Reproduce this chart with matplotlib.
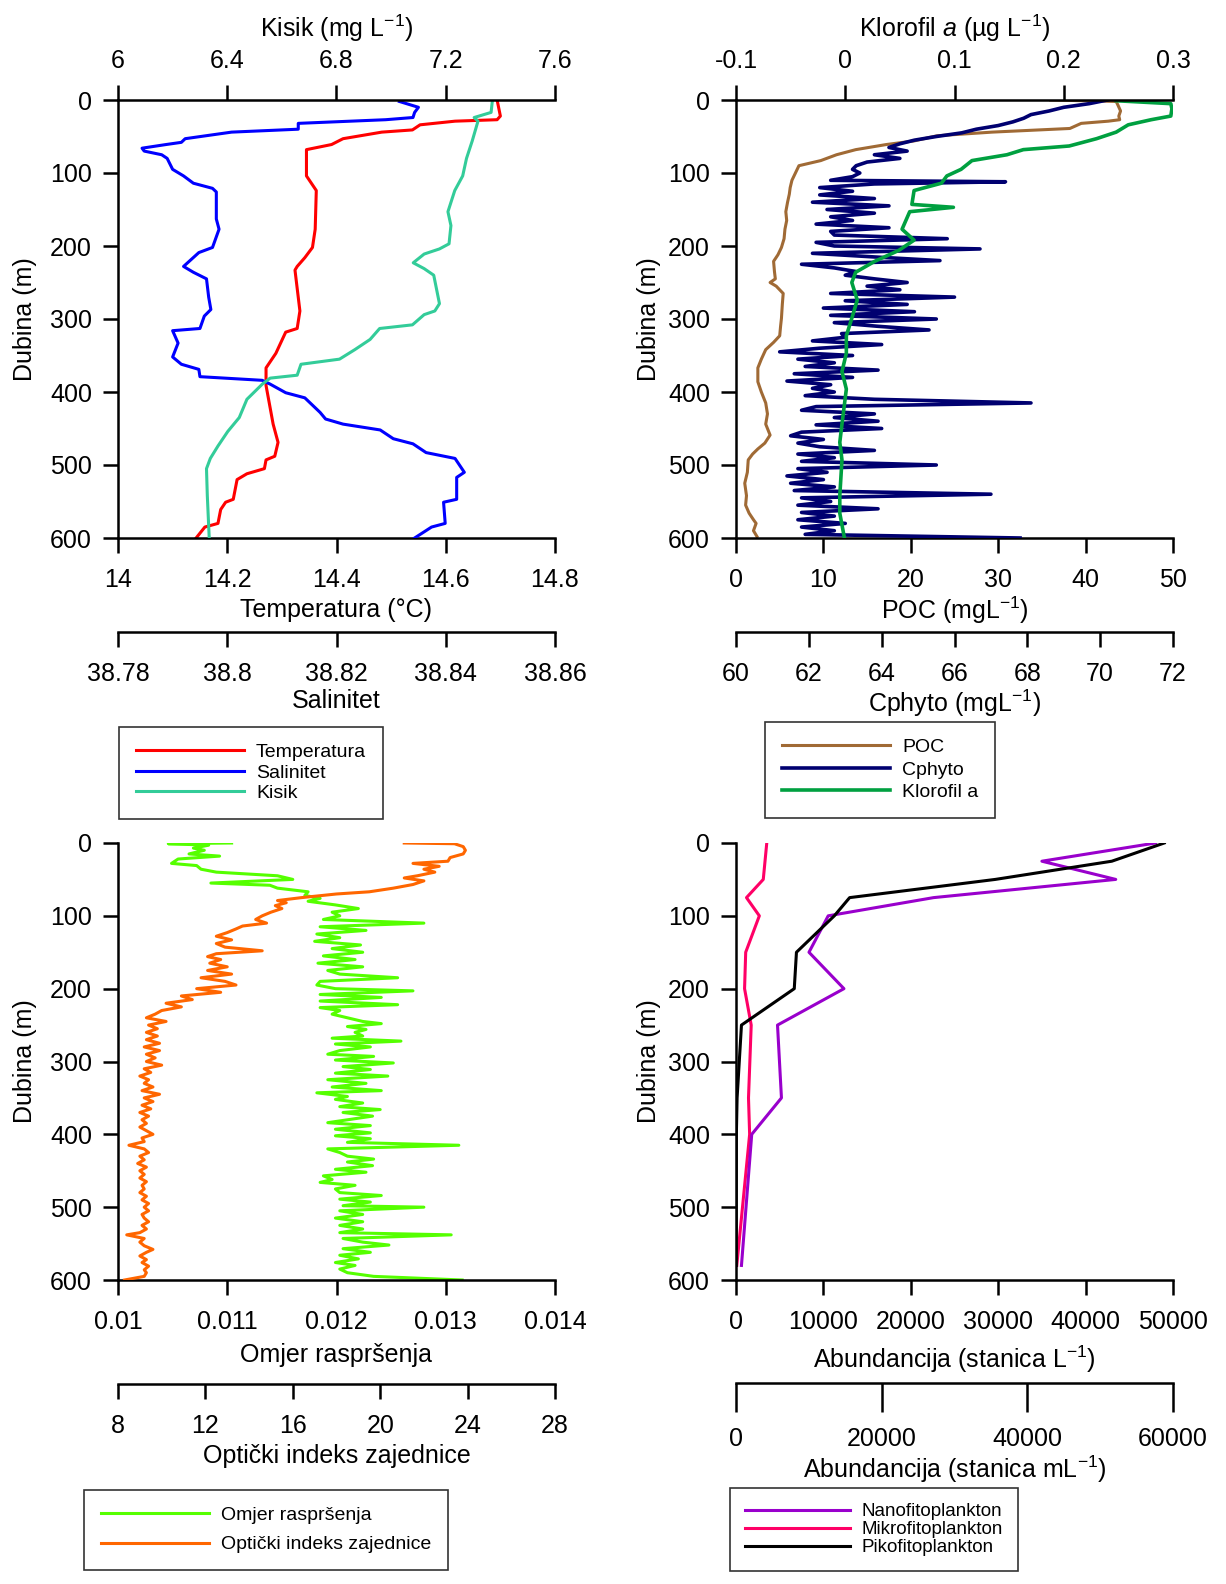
import matplotlib
matplotlib.use('Agg')
import matplotlib.pyplot as plt

plt.rcParams['font.family'] = ['Liberation Sans', 'DejaVu Sans']
plt.rcParams['mathtext.fontset'] = 'custom'
plt.rcParams['mathtext.rm'] = 'Liberation Sans'
plt.rcParams['mathtext.it'] = 'Liberation Sans:italic'
plt.rcParams['mathtext.bf'] = 'Liberation Sans:bold'
plt.rcParams['font.size'] = 18

# ---- data: panel 1 (Temperatura, Salinitet, Kisik) ----
temp_depth = [0, 22, 27, 29, 34, 41, 44, 53, 61, 68, 104, 124, 177, 202, 216, 228, 233, 289,
              313, 318, 347, 367, 391, 444, 469, 488, 493, 505, 512, 520, 547, 551, 561, 580,
              585, 600]
temp_val = [14.694, 14.70, 14.694, 14.617, 14.553, 14.539, 14.483, 14.412, 14.391, 14.345,
            14.345, 14.363, 14.361, 14.356, 14.342, 14.328, 14.324, 14.333, 14.328, 14.307,
            14.289, 14.271, 14.271, 14.284, 14.293, 14.287, 14.271, 14.268, 14.236, 14.218,
            14.211, 14.197, 14.188, 14.183, 14.159, 14.143]

sal_depth = [2, 10, 17, 24, 27, 32, 40, 44, 53, 58, 61, 66, 70, 75, 80, 95, 104, 114, 121, 126,
             163, 177, 202, 209, 228, 236, 245, 270, 287, 296, 313, 316, 333, 352, 362, 369,
             379, 384, 389, 401, 408, 428, 437, 444, 452, 464, 471, 483, 491, 510, 517, 547,
             551, 580, 585, 600]
sal_val = [38.8315, 38.835, 38.8343, 38.834, 38.829, 38.813, 38.813, 38.8008, 38.7923, 38.7916,
           38.7888, 38.7844, 38.7848, 38.788, 38.789, 38.790, 38.792, 38.7938, 38.7973, 38.798,
           38.798, 38.7985, 38.7973, 38.7948, 38.792, 38.7938, 38.7962, 38.7966, 38.797,
           38.7958, 38.795, 38.790, 38.791, 38.790, 38.7916, 38.7948, 38.795, 38.8064, 38.8078,
           38.8107, 38.8142, 38.817, 38.818, 38.8212, 38.828, 38.8304, 38.834, 38.8364,
           38.8417, 38.8434, 38.842, 38.842, 38.8396, 38.8399, 38.8374, 38.8343]

kisik_depth = [0, 17, 24, 29, 56, 80, 104, 124, 153, 172, 197, 204, 211, 223, 231, 240, 279,
               289, 294, 308, 313, 328, 342, 355, 362, 377, 381, 389, 410, 435, 454, 474, 491,
               505, 542, 600]
kisik_val = [7.371, 7.366, 7.304, 7.318, 7.297, 7.276, 7.262, 7.233, 7.208, 7.219, 7.212, 7.177,
             7.121, 7.081, 7.121, 7.156, 7.177, 7.160, 7.121, 7.078, 6.958, 6.923, 6.867, 6.811,
             6.670, 6.656, 6.557, 6.529, 6.472, 6.444, 6.402, 6.366, 6.338, 6.324, 6.327, 6.334]

# ---- data: panel 2 (POC, Cphyto, Klorofil a) ----
poc_depth = [0, 2, 7, 15, 22, 27, 29, 32, 39, 44, 49, 56, 61, 68, 75, 83, 90, 100, 110, 120,
             129, 140, 153, 165, 177, 190, 202, 212, 221, 235, 245, 250, 255, 265, 280, 299,
             310, 323, 332, 342, 355, 367, 386, 400, 415, 430, 444, 459, 470, 478, 485, 493,
             510, 525, 542, 555, 566, 575, 580, 590, 598]
poc_val = [36.0, 43.5, 43.7, 44.0, 43.8, 43.9, 42.6, 39.5, 38.2, 29.3, 23.0, 20.4, 17.2, 13.7,
           11.5, 9.7, 7.2, 6.8, 6.4, 6.2, 6.1, 5.9, 5.7, 5.8, 5.6, 5.5, 5.2, 4.8, 4.3, 4.4, 4.5,
           3.9, 4.6, 5.4, 5.3, 5.2, 5.1, 5.0, 4.3, 3.4, 2.9, 2.5, 2.5, 2.9, 3.4, 3.6, 3.4, 3.9,
           3.3, 2.5, 1.9, 1.4, 1.3, 1.0, 1.2, 1.1, 1.5, 2.0, 2.3, 2.0, 2.4]

cphyto_depth = [0, 5, 10, 15, 20, 25, 30, 35, 40, 45, 50, 55, 60, 65, 70, 75, 80, 85, 90, 95,
                100, 105, 110, 112, 115, 120, 125, 130, 135, 140, 145, 150, 155, 160, 165, 170,
                175, 180, 185, 190, 195, 200, 204, 210, 215, 220, 225, 230, 235, 240, 245, 250,
                255, 260, 265, 270, 275, 280, 285, 290, 295, 300, 305, 310, 315, 320, 325, 330,
                335, 340, 345, 350, 355, 360, 365, 370, 375, 380, 385, 390, 395, 400, 405, 410,
                415, 420, 425, 430, 435, 440, 445, 450, 455, 460, 465, 470, 475, 480, 485, 490,
                495, 500, 505, 510, 515, 520, 525, 530, 535, 540, 545, 550, 555, 560, 565, 570,
                575, 580, 585, 590, 595, 600]
cphyto_val = [70.2, 69.7, 69.0, 68.6, 68.1, 67.9, 67.6, 67.2, 66.6, 66.2, 65.5, 64.9, 64.5, 64.2,
              64.7, 63.8, 64.5, 63.6, 63.3, 63.2, 63.4, 63.2, 62.6, 67.4, 63.8, 62.3, 63.2, 62.3,
              63.8, 62.1, 64.2, 62.5, 63.8, 62.6, 63.2, 62.2, 64.2, 62.6, 62.7, 65.8, 62.2, 62.7,
              66.7, 62.1, 63.8, 65.6, 61.8, 62.7, 63.3, 63.0, 63.8, 64.7, 63.6, 64.5, 62.6, 66.0,
              63.0, 64.7, 62.4, 64.9, 62.6, 65.5, 62.7, 63.9, 65.3, 62.9, 63.0, 62.1, 64.0, 62.3,
              61.2, 63.2, 61.7, 62.7, 61.9, 63.9, 61.6, 63.2, 61.4, 62.6, 62.1, 62.7, 61.9, 63.8,
              68.1, 62.2, 61.8, 63.8, 62.7, 63.9, 62.2, 64.0, 61.8, 61.5, 62.4, 61.7, 62.3, 63.8,
              61.7, 62.7, 61.8, 65.5, 61.7, 62.5, 61.4, 62.4, 61.5, 62.7, 61.6, 67.0, 61.8, 62.6,
              61.7, 63.9, 61.8, 62.7, 61.7, 63.0, 61.8, 62.7, 61.9, 67.8]

chl_depth = [1, 5, 12, 22, 27, 34, 44, 53, 63, 68, 75, 83, 95, 104, 114, 124, 143, 147, 153,
             177, 192, 206, 221, 236, 250, 274, 299, 323, 347, 372, 396, 420, 444, 469, 493,
             542, 566, 598]
chl_val = [0.248, 0.298, 0.299, 0.298, 0.280, 0.259, 0.248, 0.230, 0.205, 0.163, 0.148, 0.116,
           0.106, 0.093, 0.088, 0.063, 0.061, 0.099, 0.059, 0.052, 0.063, 0.049, 0.027, 0.0095,
           0.006, 0.011, 0.006, 0.001, 0.001, -0.003, 0.001, -0.001, -0.003, -0.005, -0.003,
           -0.005, -0.005, -0.001]

# ---- data: panel 3 (Omjer rasprsenja, Opticki indeks zajednice) ----
omjer_depth = [0, 1, 3, 7, 10, 15, 18, 22, 28, 31, 36, 40, 45, 50, 55, 58, 62, 67, 72, 76, 80,
               85, 90, 95, 100, 105, 110, 115, 120, 125, 130, 135, 140, 145, 150, 155, 160, 165,
               170, 175, 180, 185, 190, 195, 200, 203, 208, 212, 217, 222, 226, 230, 235, 240,
               245, 248, 252, 256, 260, 265, 268, 272, 276, 280, 285, 290, 293, 298, 302, 307,
               311, 316, 320, 325, 330, 335, 340, 343, 348, 352, 357, 362, 366, 370, 375, 380,
               384, 388, 393, 398, 402, 406, 411, 415, 420, 425, 430, 434, 438, 443, 448, 452,
               457, 462, 466, 470, 475, 480, 484, 489, 493, 498, 500, 505, 510, 515, 520, 525,
               530, 535, 538, 543, 548, 552, 557, 562, 566, 571, 576, 580, 585, 590, 595, 600]
omjer_val = [0.01104, 0.01046, 0.01083, 0.01069, 0.01079, 0.01065, 0.01093, 0.01055, 0.01049,
             0.01072, 0.01076, 0.01090, 0.01146, 0.01160, 0.01085, 0.01139, 0.01146, 0.01174,
             0.01171, 0.01185, 0.01174, 0.01199, 0.01220, 0.01196, 0.01203, 0.01188, 0.01280,
             0.01185, 0.01227, 0.01182, 0.01203, 0.01180, 0.01222, 0.01196, 0.01224, 0.01188,
             0.01217, 0.01183, 0.01224, 0.01192, 0.01203, 0.01256, 0.01185, 0.01182, 0.01199,
             0.01270, 0.01185, 0.01241, 0.01185, 0.01256, 0.01185, 0.01203, 0.01196, 0.01210,
             0.01224, 0.01241, 0.01210, 0.01227, 0.01217, 0.01224, 0.01196, 0.01259, 0.01199,
             0.01231, 0.01203, 0.01192, 0.01234, 0.01199, 0.01252, 0.01206, 0.01231, 0.01199,
             0.01247, 0.01192, 0.01227, 0.01196, 0.01241, 0.01182, 0.01210, 0.01199, 0.01224,
             0.01203, 0.01240, 0.01206, 0.01233, 0.01210, 0.01192, 0.01231, 0.01199, 0.01231,
             0.01199, 0.01231, 0.01210, 0.01312, 0.01192, 0.01203, 0.01210, 0.01234, 0.01210,
             0.01233, 0.01199, 0.01227, 0.01188, 0.01196, 0.01185, 0.01217, 0.01199, 0.01203,
             0.01241, 0.01203, 0.01231, 0.01206, 0.01280, 0.01203, 0.01224, 0.01199, 0.01224,
             0.01203, 0.01224, 0.01203, 0.01305, 0.01206, 0.01224, 0.01248, 0.01206, 0.01231,
             0.01203, 0.01220, 0.01199, 0.01217, 0.01203, 0.01210, 0.01234, 0.01315]

indeks_depth = [0, 1, 5, 10, 15, 20, 25, 28, 32, 36, 40, 45, 48, 52, 57, 62, 67, 70, 75, 79, 82,
                86, 90, 95, 100, 105, 110, 114, 118, 123, 128, 133, 138, 143, 148, 152, 156,
                160, 165, 170, 175, 180, 185, 190, 195, 200, 205, 210, 215, 220, 225, 230, 235,
                240, 245, 250, 255, 260, 265, 270, 275, 280, 285, 290, 295, 300, 305, 310, 315,
                320, 325, 330, 335, 340, 345, 350, 355, 360, 365, 370, 375, 380, 385, 390, 395,
                400, 405, 410, 415, 420, 425, 430, 435, 440, 445, 450, 455, 460, 465, 470, 475,
                480, 485, 490, 495, 500, 505, 510, 515, 520, 525, 530, 535, 538, 543, 548, 553,
                558, 562, 567, 572, 576, 581, 586, 590, 595, 600]
indeks_val = [21.1, 23.4, 23.8, 23.9, 23.8, 23.2, 23.1, 21.5, 22.7, 22.0, 22.5, 21.7, 21.1, 22.0,
              21.5, 20.6, 19.5, 18.0, 16.4, 15.3, 15.7, 15.2, 15.5, 15.0, 14.6, 14.3, 14.8, 13.7,
              13.4, 13.0, 12.5, 13.2, 12.5, 12.9, 14.6, 12.5, 12.1, 12.7, 12.2, 13.0, 12.1, 13.2,
              11.8, 12.9, 13.4, 11.6, 12.7, 10.9, 11.4, 10.2, 10.9, 10.0, 9.7, 9.3, 10.2, 9.4,
              9.8, 9.3, 9.8, 9.3, 9.9, 9.2, 9.9, 9.3, 9.7, 9.3, 10.0, 9.2, 9.5, 9.0, 9.4, 9.2,
              9.6, 9.1, 9.9, 9.2, 9.6, 9.1, 9.5, 9.0, 9.4, 9.1, 9.3, 9.0, 9.3, 9.6, 9.1, 9.2, 8.5,
              9.2, 9.4, 9.0, 9.2, 8.9, 9.3, 9.0, 9.2, 9.0, 9.3, 9.1, 9.2, 9.0, 9.3, 9.1, 9.4, 9.2,
              9.4, 9.1, 9.2, 9.4, 9.1, 9.3, 9.0, 8.4, 9.2, 9.0, 9.2, 9.6, 9.3, 9.0, 9.3, 9.1, 9.4,
              9.2, 9.3, 9.2, 8.3]

# ---- data: panel 4 (fitoplankton abundancija) ----
nano_depth = [0, 25, 50, 75, 100, 150, 200, 250, 350, 400, 580]
nano_val = [57600, 42000, 52140, 27120, 12660, 10020, 14820, 5700, 6240, 2160, 750]   # mL-1
mikro_depth = [0, 50, 75, 100, 150, 200, 250, 350, 400, 580]
mikro_val = [3520, 3120, 1200, 2670, 1110, 980, 1740, 1430, 1560, 90]                # L-1
piko_depth = [0, 25, 50, 75, 100, 150, 200, 250, 350, 400, 580]
piko_val = [58800, 51600, 35600, 15600, 13500, 8300, 8000, 750, 150, 50, 30]          # mL-1

# ---- axis ticks ----
depth_ticks = [0, 100, 200, 300, 400, 500, 600]
temp_ticks = [14, 14.2, 14.4, 14.6, 14.8]
sal_ticks = [38.78, 38.8, 38.82, 38.84, 38.86]
kisik_ticks = [6, 6.4, 6.8, 7.2, 7.6]
poc_ticks = [0, 10, 20, 30, 40, 50]
cphyto_ticks = [60, 62, 64, 66, 68, 70, 72]
chl_ticks = [-0.1, 0, 0.1, 0.2, 0.3]
omjer_ticks = [0.01, 0.011, 0.012, 0.013, 0.014]
indeks_ticks = [8, 12, 16, 20, 24, 28]
abund_L_ticks = [0, 10000, 20000, 30000, 40000, 50000]
abund_mL_ticks = [0, 20000, 40000, 60000]

W, H = 1226, 1584
fig = plt.figure(figsize=(W / 100, H / 100), dpi=100)

LW = 1.8      # spine / tick width
TL = 10.8     # tick length


def px_axes(x0, y0, x1, y1):
    return fig.add_axes([x0 / W, 1 - y1 / H, (x1 - x0) / W, (y1 - y0) / H])


def set_x(ax, ticks):
    ax.set_xlim(ticks[0], ticks[-1])
    ax.set_xticks(ticks, labels=[f'{t:g}' for t in ticks])


def depth_axes(x0, y0, x1, y1, label_x):
    ax = px_axes(x0, y0, x1, y1)
    ax.set_ylim(600, 0)
    ax.set_yticks(depth_ticks, labels=[str(d) for d in depth_ticks])
    ax.set_ylabel('Dubina (m)')
    ax.yaxis.set_label_coords(label_x, 0.5)
    ax.spines['top'].set_visible(False)
    ax.spines['right'].set_visible(False)
    for s in ax.spines.values():
        s.set_linewidth(LW)
    ax.tick_params(direction='out', length=TL, width=LW, pad=8)
    ax.tick_params(axis='x', pad=11)
    return ax


def extra_bottom(ax, offset, ticklen=TL):
    a2 = ax.twiny()
    a2.xaxis.set_ticks_position('bottom')
    a2.xaxis.set_label_position('bottom')
    a2.spines['bottom'].set_position(('axes', offset))
    a2.spines['bottom'].set_linewidth(LW)
    for s in ['top', 'left', 'right']:
        a2.spines[s].set_visible(False)
    a2.tick_params(direction='out', length=ticklen, width=LW, pad=11)
    return a2


def extra_top(ax):
    a3 = ax.twiny()
    a3.spines['top'].set_linewidth(LW)
    for s in ['bottom', 'left', 'right']:
        a3.spines[s].set_visible(False)
    a3.tick_params(direction='out', length=TL, width=LW, pad=9)
    return a3


def make_legend(handles, x, y, spacing, size=14, bpad=0.8):
    leg = fig.legend(handles=handles, loc='upper left', bbox_to_anchor=(x / W, 1 - y / H),
                     frameon=True, fancybox=False, edgecolor='black', fontsize=size,
                     handlelength=5.6, handletextpad=0.6, borderpad=bpad,
                     labelspacing=spacing, borderaxespad=0)
    leg.get_frame().set_linewidth(1.2)


# ---------- panel 1 ----------
ax1 = depth_axes(118, 100, 555, 538, -0.185)
l_t, = ax1.plot(temp_val, temp_depth, color='#ff0000', lw=2.2, label='Temperatura')
set_x(ax1, temp_ticks)
ax1.set_xlabel('Temperatura (°C)', labelpad=4)

ax1b = extra_bottom(ax1, -0.215)
l_s, = ax1b.plot(sal_val, sal_depth, color='#0000ff', lw=2.2, label='Salinitet')
set_x(ax1b, sal_ticks)
ax1b.set_xlabel('Salinitet', labelpad=2)

ax1t = extra_top(ax1)
l_k, = ax1t.plot(kisik_val, kisik_depth, color='#33cc99', lw=2.2, label='Kisik')
set_x(ax1t, kisik_ticks)
ax1t.set_xlabel('Kisik (mg L$^{-1}$)', labelpad=8)

make_legend([l_t, l_s, l_k], 119, 727, 0.15, bpad=0.85)

# ---------- panel 2 ----------
ax2 = depth_axes(736, 100, 1173, 538, -0.172)
l_p, = ax2.plot(poc_val, poc_depth, color='#a06a35', lw=2.2, label='POC')
set_x(ax2, poc_ticks)
ax2.set_xlabel('POC (mgL$^{-1}$)', labelpad=2)

ax2b = extra_bottom(ax2, -0.215)
l_c, = ax2b.plot(cphyto_val, cphyto_depth, color='#000070', lw=2.6, label='Cphyto')
set_x(ax2b, cphyto_ticks)
ax2b.set_xlabel('Cphyto (mgL$^{-1}$)', labelpad=1)

ax2t = extra_top(ax2)
l_a, = ax2t.plot(chl_val, chl_depth, color='#00a040', lw=2.6, label='Klorofil a')
set_x(ax2t, chl_ticks)
ax2t.set_xlabel('Klorofil $\\it{a}$ (µg L$^{-1}$)', labelpad=8)

make_legend([l_p, l_c, l_a], 765, 722, 0.25, bpad=0.85)

# ---------- panel 3 ----------
ax3 = depth_axes(118, 843, 555, 1280, -0.185)
l_o, = ax3.plot(omjer_val, omjer_depth, color='#55ff00', lw=2.2, label='Omjer raspršenja')
set_x(ax3, omjer_ticks)
ax3.set_xlabel('Omjer raspršenja', labelpad=6)

ax3b = extra_bottom(ax3, -0.238)
l_i, = ax3b.plot(indeks_val, indeks_depth, color='#ff6600', lw=2.2,
                 label='Optički indeks zajednice')
set_x(ax3b, indeks_ticks)
ax3b.set_xlabel('Optički indeks zajednice', labelpad=4)

make_legend([l_o, l_i], 84, 1490, 0.6, bpad=0.85)

# ---------- panel 4 ----------
ax4 = depth_axes(736, 843, 1173, 1280, -0.172)
l_mi, = ax4.plot(mikro_val, mikro_depth, color='#ff0066', lw=2.2, label='Mikrofitoplankton')
set_x(ax4, abund_L_ticks)
ax4.set_xlabel('Abundancija (stanica L$^{-1}$)', labelpad=7)

ax4b = extra_bottom(ax4, -0.235, ticklen=21)
l_na, = ax4b.plot(nano_val, nano_depth, color='#9900cc', lw=2.2, label='Nanofitoplankton')
l_pi, = ax4b.plot(piko_val, piko_depth, color='black', lw=2.2, label='Pikofitoplankton')
set_x(ax4b, abund_mL_ticks)
ax4b.set_xlabel('Abundancija (stanica mL$^{-1}$)', labelpad=2)

make_legend([l_na, l_mi, l_pi], 730, 1488, 0.05, size=13.5, bpad=0.8)

fig.savefig('out.png', dpi=100)
